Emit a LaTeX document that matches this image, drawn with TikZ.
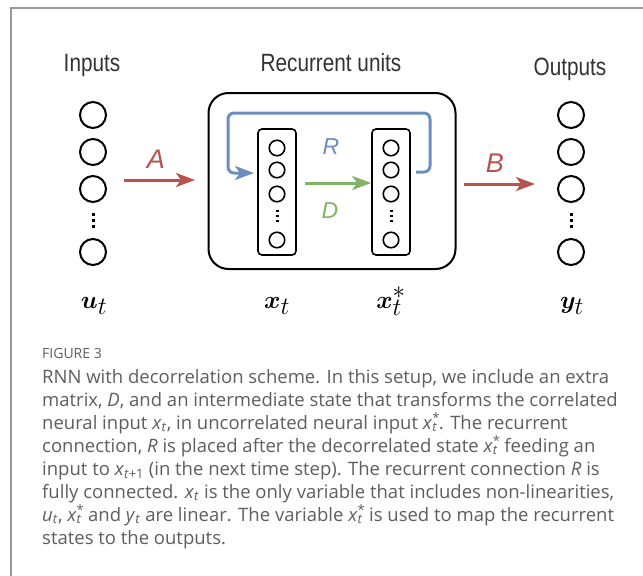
\documentclass[tikz,border=0pt]{standalone}
\usepackage{fontspec}
\usepackage{graphicx}
\usepackage{bm}
\setmainfont{Liberation Sans}
\newfontfamily\capfont{Open Sans}
\usetikzlibrary{arrows.meta}
\definecolor{rred}{HTML}{B85450}
\definecolor{rblue}{HTML}{6C8EBF}
\definecolor{rgreen}{HTML}{82B366}
\definecolor{framegray}{HTML}{9A9A9A}
\definecolor{captxt}{HTML}{5E5E5E}
\definecolor{headtxt}{HTML}{333333}
\newcommand\mysub[2]{\textit{#1}\textsubscript{\textit{#2}}}
\newcommand\mystar{\textit{x}\makebox[0pt][l]{\textsuperscript{*}}\textsubscript{\textit{t}}\kern1.5pt}
\newcommand\narrow[1]{\scalebox{0.83}[1]{#1}}
\begin{document}
\begin{tikzpicture}[x=1pt,y=-1pt,
  neuron/.style={circle,draw=black,line width=2pt,minimum size=26pt,inner sep=0pt},
  sneuron/.style={circle,draw=black,line width=1.6pt,minimum size=15.5pt,inner sep=0pt},
  layerbox/.style={draw=black,line width=1.6pt,rounded corners=4pt,minimum width=38pt,minimum height=126pt,inner sep=0pt},
  outerbox/.style={draw=black,line width=2pt,rounded corners=20pt,minimum width=247pt,minimum height=176pt,inner sep=0pt},
  heading/.style={anchor=base,inner sep=0pt,font=\fontsize{25}{30}\selectfont,text=headtxt},
  mathlbl/.style={anchor=base,inner sep=0pt,font=\fontsize{34}{40}\selectfont},
  bigw/.style={anchor=base,inner sep=0pt,font=\fontsize{27}{32}\selectfont\itshape},
  smallw/.style={anchor=base,inner sep=0pt,font=\fontsize{23}{28}\selectfont\itshape},
  conn/.style={line width=3pt,-{Stealth[length=19pt,width=14pt,inset=5pt]}},
  capline/.style={anchor=base west,inner sep=0pt,font=\capfont\fontsize{18.5}{22}\selectfont,text=captxt},
]
\useasboundingbox (0,0) rectangle (643,576);
\fill[white] (0,0) rectangle (643,576);
\draw[framegray,line width=2pt] (11,577) -- (11,8) -- (644,8);

% headings
\node[heading] (hin) at (92,71) {\narrow{Inputs}};
\node[heading] (hrec) at (331,71) {\narrow{Recurrent units}};
\node[heading] (hout) at (570,75) {\narrow{Outputs}};

% input layer
\foreach \i/\y in {1/115,2/152,3/189,4/252} \node[neuron] (u\i) at (93,\y) {};
\foreach \y in {214,220,226} \fill (91.5,\y-1.5) rectangle (94.5,\y+1.5);
% output layer
\foreach \i/\y in {1/115,2/152,3/189,4/252} \node[neuron] (y\i) at (571,\y) {};
\foreach \y in {214,220,226} \fill (569.5,\y-1.5) rectangle (572.5,\y+1.5);

% recurrent block
\node[outerbox] (outer) at (332,181) {};
\node[layerbox] (bx1) at (277,192) {};
\node[layerbox] (bx2) at (391,192) {};
\foreach \i/\y in {1/148,2/170,3/194,4/240} {
  \node[sneuron] (xa\i) at (277,\y) {};
  \node[sneuron] (xb\i) at (391,\y) {};
}
\foreach \y in {211,216,221} {
  \fill (276,\y-1.3) rectangle (278.6,\y+1.3);
  \fill (390,\y-1.3) rectangle (392.6,\y+1.3);
}

% connectors
\coordinate (aS) at (124,180);
\coordinate (aE) at (195,180);
\draw[conn,rred] (aS) -- (aE);
\node[bigw,text=rred] (lA) at (156,168) {A};

\coordinate (bS) at (464,184);
\coordinate (bE) at (535,184);
\draw[conn,rred] (bS) -- (bE);
\node[bigw,text=rred] (lB) at (495,172) {B};

\coordinate (dS) at (305,183);
\draw[conn,rgreen] (dS) -- (bx2.west |- dS);
\node[smallw,text=rgreen] (lD) at (330,218) {D};

\coordinate (rS) at (416,172);
\coordinate (rT) at (254,173);
\draw[conn,rblue,rounded corners=6pt] (rS) -- (430,172) -- (430,113) -- (228,113) -- (228,173) -- (rT);
\node[smallw,text=rblue] (lR) at (331,154) {R};

% math labels
\node[mathlbl] (mu) at (94,308) {$\bm{u}_t$};
\node[mathlbl] (mx) at (277,308) {$\bm{x}_t$};
\node[mathlbl] (mxs) at (391,308) {$\bm{x}_t^*$};
\node[mathlbl] (my) at (572,308) {$\bm{y}_t$};

% caption
\node[capline,font=\capfont\fontsize{14}{16}\selectfont] (fig) at (42,358) {FIGURE 3};
\node[capline] (c1) at (42,383) {RNN with decorrelation scheme. In this setup, we include an extra};
\node[capline] (c2) at (42,406) {matrix, \textit{D}, and an intermediate state that transforms the correlated};
\node[capline] (c3) at (42,429) {neural input \mysub{x}{t}, in uncorrelated neural input \mystar. The recurrent};
\node[capline] (c4) at (42,452) {connection, \textit{R} is placed after the decorrelated state \mystar\ feeding an};
\node[capline] (c5) at (42,475) {input to \textit{x}\textsubscript{\textit{t}+1} (in the next time step). The recurrent connection \textit{R} is};
\node[capline] (c6) at (42,498) {fully connected. \mysub{x}{t} is the only variable that includes non-linearities,};
\node[capline] (c7) at (42,521) {\mysub{u}{t}, \mystar\ and \mysub{y}{t} are linear. The variable \mystar\ is used to map the recurrent};
\node[capline] (c8) at (42,544) {states to the outputs.};
\end{tikzpicture}
\end{document}
